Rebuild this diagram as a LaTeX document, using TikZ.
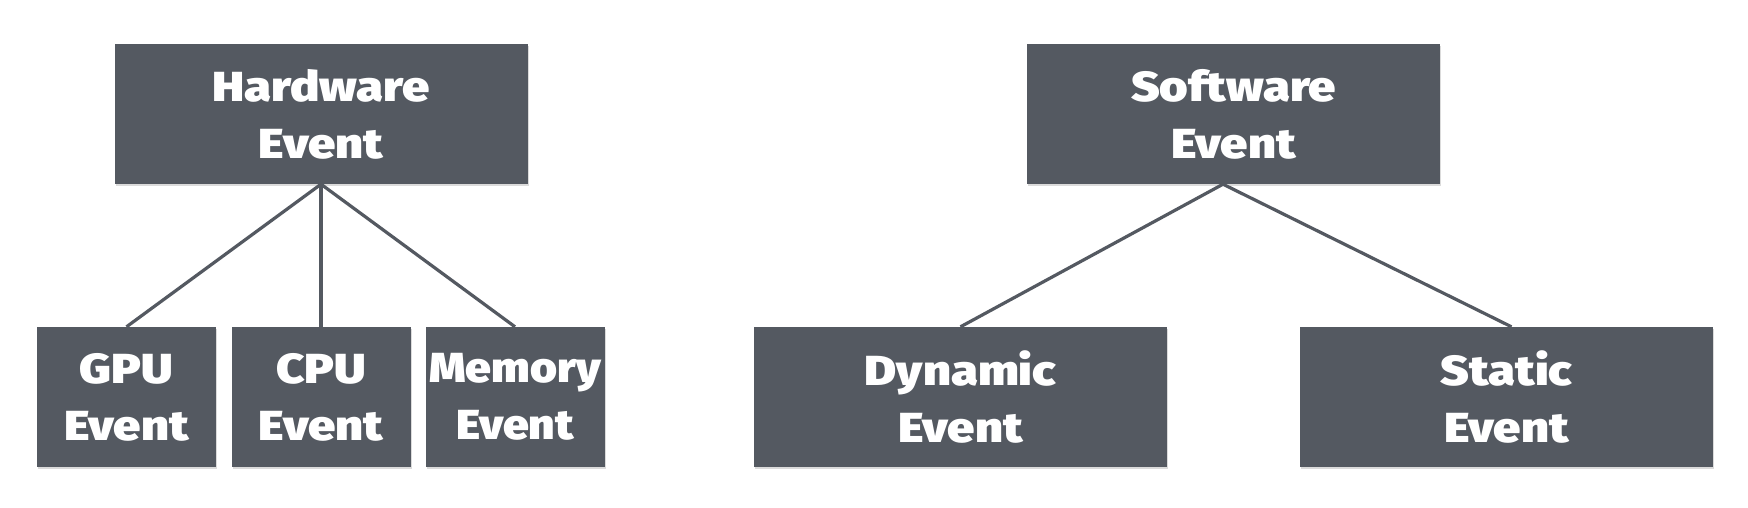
\documentclass[tikz,border=0pt]{standalone}
\usepackage{fontspec}
\setmainfont{Fira Sans Black}[FakeStretch=1.165]
\newfontfamily\memfont{Fira Sans Black}[FakeStretch=1.1]
\usetikzlibrary{calc,shadows}
\definecolor{boxgray}{RGB}{84,89,97}
\begin{document}
\begin{tikzpicture}[x=1pt,y=-1pt,
  box/.style={fill=boxgray, text=white, inner sep=0pt, minimum height=140pt,
    align=center, font=\fontsize{42}{57}\selectfont,
    drop shadow={shadow xshift=1pt, shadow yshift=-1.5pt, opacity=0.35, fill=black!40}},
  widebox/.style={box, minimum width=413pt},
  narrowbox/.style={box, minimum width=179pt},
  link/.style={draw=boxgray, line width=3.2pt}]
\fill[white] (0,0) rectangle (1748,507);
\useasboundingbox (0,0) rectangle (1748,507);
\node[widebox] (hw) at (321,114) {Hardware\\Event};
\node[widebox] (sw) at (1233.5,114) {Software\\Event};
\node[narrowbox] (gpu) at (126.5,397) {GPU\\Event};
\node[narrowbox] (cpu) at (321,397) {CPU\\Event};
\node[narrowbox, font=\memfont\fontsize{42}{57}\selectfont] (mem) at (515,397) {Memory\\Event};
\node[widebox] (dyn) at (960.5,397) {Dynamic\\Event};
\node[widebox] (sta) at (1506.5,397) {Static\\Event};
\coordinate (swapex) at ($(sw.south)+(-10.5,0)$);
\coordinate (staend) at ($(sta.north)+(5,0)$);
\draw[link] (hw.south) -- (gpu.north);
\draw[link] (hw.south) -- (cpu.north);
\draw[link] (hw.south) -- (mem.north);
\draw[link] (swapex) -- (dyn.north);
\draw[link] (swapex) -- (staend);
\end{tikzpicture}
\end{document}
